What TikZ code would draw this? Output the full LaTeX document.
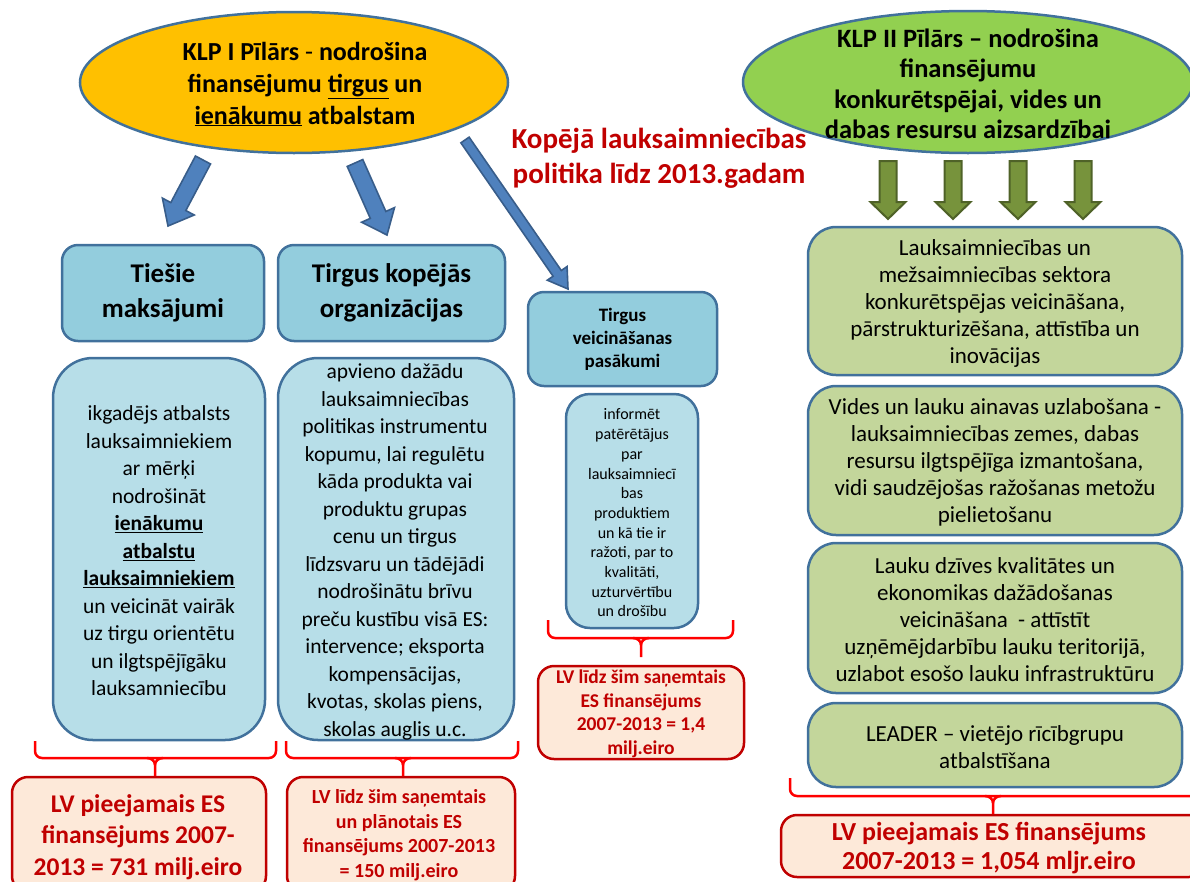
\documentclass[tikz,border=0pt]{standalone}
\usepackage{fontspec}
\setmainfont{Carlito}
\usetikzlibrary{calc,shapes.geometric}
\definecolor{bblue}{HTML}{41719C}
\definecolor{orangeF}{HTML}{FFC000}
\definecolor{greenF}{HTML}{92D050}
\definecolor{headF}{HTML}{93CDDD}
\definecolor{bodyF}{HTML}{B7DEE8}
\definecolor{oliveF}{HTML}{C3D69B}
\definecolor{redF}{HTML}{FDE9D9}
\definecolor{darkred}{HTML}{C00000}
\definecolor{arrowblue}{HTML}{4F81BD}
\definecolor{arrowblueD}{HTML}{385D8A}
\definecolor{arrowgreen}{HTML}{77933C}
\definecolor{arrowgreenD}{HTML}{4F6228}
\definecolor{bracered}{HTML}{FF0000}
% #1 style, #2 tail, #3 tip, #4 shaft half width, #5 head half width, #6 head length
\newcommand\blockarrow[6]{%
  \coordinate (ba-h) at ($(#3)!#6!(#2)$);
  \draw[#1] ($(#2)!#4!90:(#3)$) -- ($(ba-h)!#4!90:(#3)$) -- ($(ba-h)!#5!90:(#3)$) -- (#3)
    -- ($(ba-h)!#5!-90:(#3)$) -- ($(ba-h)!#4!-90:(#3)$) -- ($(#2)!#4!-90:(#3)$) -- cycle;}
% #1 left x, #2 right x, #3 centre x, #4 top y, #5 bar y, #6 tick bottom y
\newcommand\redbrace[6]{%
  \draw[bracestyle, rounded corners=7pt] (#1,#4) -- (#1,#5) -- (#2,#5) -- (#2,#4);
  \draw[bracestyle] (#3-8,#5) to[out=0,in=90] (#3,#5+7) -- (#3,#6);
  \draw[bracestyle] (#3+8,#5) to[out=180,in=90] (#3,#5+7);}
\begin{document}
\begin{tikzpicture}[x=1pt,y=-1pt,
  pillar/.style={ellipse, draw=bblue, line width=2.5pt, inner sep=0pt},
  boxshape/.style={draw=bblue, line width=2.5pt, rounded corners=#1, inner sep=0pt},
  headbox/.style={boxshape=16pt, fill=headF},
  bodybox/.style={boxshape=#1, fill=bodyF},
  greenbox/.style={boxshape=28pt, fill=oliveF},
  redbox/.style={draw=darkred, line width=2.5pt, rounded corners=16pt, fill=redF, inner sep=0pt},
  redtext/.style={text=darkred, align=center, inner sep=0pt},
  bluearrow/.style={fill=arrowblue, draw=arrowblueD, line width=1.6pt, line join=miter},
  greenarrow/.style={fill=arrowgreen, draw=arrowgreenD, line width=2pt, line join=miter},
  bracestyle/.style={draw=bracered, line width=2.5pt},
  txt/.style={align=center, inner sep=0pt}]
\useasboundingbox (0,0) rectangle (1190,881);

% pillars
\node[pillar, fill=orangeF, minimum width=428, minimum height=141] (p1) at (294,82.5) {};
\node[txt, font=\bfseries\fontsize{26}{32}\selectfont] (p1t) at (305,84)
  {KLP I Pīlārs \mdseries-\bfseries{} nodrošina\\ finansējumu \underline{tirgus} un\\ \underline{ienākumu} atbalstam};
\node[pillar, fill=greenF, minimum width=450, minimum height=142] (p2) at (968,82) {};
\node[txt, font=\bfseries\fontsize{26.5}{30.5}\selectfont] (p2t) at (968,84)
  {KLP II Pīlārs – nodrošina\\ finansējumu\\ konkurētspējai, vides un\\ dabas resursu aizsardzībai};

% title
\node[txt, text=darkred, font=\bfseries\fontsize{29}{35}\selectfont] (title) at (659,158)
  {Kopējā lauksaimniecības\\ politika līdz 2013.gadam};

% pillar I boxes
\node[headbox, minimum width=202, minimum height=96] (h1) at (163,293) {};
\node[txt, font=\bfseries\fontsize{27}{35}\selectfont] (h1t) at (h1.center) {Tiešie\\ maksājumi};
\node[headbox, minimum width=227, minimum height=96] (h2) at (391.5,293) {};
\node[txt, font=\bfseries\fontsize{27}{35}\selectfont] (h2t) at (h2.center) {Tirgus kopējās\\ organizācijas};
\node[headbox, minimum width=189, minimum height=94] (h3) at (622.5,339) {};
\node[txt, font=\bfseries\fontsize{19}{23}\selectfont] (h3t) at (h3.center) {Tirgus\\ veicināšanas\\ pasākumi};

\node[bodybox=40pt, minimum width=212, minimum height=382] (b1) at (159,549) {};
\node[txt, font=\fontsize{21.5}{27.5}\selectfont] (b1t) at (159,551)
  {ikgadējs atbalsts\\ lauksaimniekiem\\ ar mērķi\\ nodrošināt\\ \textbf{\underline{ienākumu}}\\ \textbf{\underline{atbalstu}}\\ \textbf{\underline{lauksaimniekiem}}\\ un veicināt vairāk\\ uz tirgu orientētu\\ un ilgtspējīgāku\\ lauksamniecību};
\node[bodybox=40pt, minimum width=236, minimum height=382] (b2) at (396,549) {};
\node[txt, font=\fontsize{21.5}{27.5}\selectfont] (b2t) at (395,552)
  {apvieno dažādu\\ lauksaimniecības\\ politikas instrumentu\\ kopumu, lai regulētu\\ kāda produkta vai\\ produktu grupas\\ cenu un tirgus\\ līdzsvaru un tādējādi\\ nodrošinātu brīvu\\ preču kustību visā ES:\\ intervence; eksporta\\ kompensācijas,\\ kvotas, skolas piens,\\ skolas auglis u.c.};
\node[bodybox=24pt, minimum width=132, minimum height=234] (b3) at (632,511) {};
\node[txt, font=\fontsize{16}{19.7}\selectfont] (b3t) at (632,513)
  {informēt\\ patērētājus\\ par\\ lauksaimniecī\\ bas\\ produktiem\\ un kā tie ir\\ ražoti, par to\\ kvalitāti,\\ uzturvērtību\\ un drošību};

% pillar II boxes
\node[greenbox, minimum width=374, minimum height=148] (g1) at (995,301) {};
\node[txt, font=\fontsize{23}{27}\selectfont] (g1t) at (995,303)
  {Lauksaimniecības un\\ mežsaimniecības sektora\\ konkurētspējas veicināšana,\\ pārstrukturizēšana, attīstība un\\ inovācijas};
\node[greenbox, minimum width=374, minimum height=149] (g2) at (995,460.5) {};
\node[txt, font=\fontsize{23}{27}\selectfont] (g2t) at (995,462)
  {Vides un lauku ainavas uzlabošana -\\ lauksaimniecības zemes, dabas\\ resursu ilgtspējīga izmantošana,\\ vidi saudzējošas ražošanas metožu\\ pielietošanu};
\node[greenbox, minimum width=374, minimum height=150] (g3) at (995,618) {};
\node[txt, font=\fontsize{23}{27}\selectfont] (g3t) at (995,620)
  {Lauku dzīves kvalitātes un\\ ekonomikas dažādošanas\\ veicināšana\ \ - attīstīt\\ uzņēmējdarbību lauku teritorijā,\\ uzlabot esošo lauku infrastruktūru};
\node[greenbox, minimum width=374, minimum height=84] (g4) at (995,745) {};
\node[txt, font=\fontsize{23}{27}\selectfont] (g4t) at (995,747)
  {LEADER – vietējo rīcībgrupu\\ atbalstīšana};

% red funding boxes
\node[redbox, minimum width=254, minimum height=115] (r1) at (139,834.5) {};
\node[redtext, font=\bfseries\fontsize{25.5}{31.5}\selectfont] (r1t) at (138,837) {LV pieejamais ES\\ finansējums 2007-\\ 2013 = 731 milj.eiro};
\node[redbox, minimum width=228, minimum height=115] (r2) at (401,834.5) {};
\node[redtext, font=\bfseries\fontsize{20}{24.5}\selectfont] (r2t) at (399,835) {LV līdz šim saņemtais\\ un plānotais ES\\ finansējums 2007-2013\\ = 150 milj.eiro};
\node[redbox, minimum width=206, minimum height=93] (r3) at (641,712.5) {};
\node[redtext, font=\bfseries\fontsize{19.5}{23.5}\selectfont] (r3t) at (641,714) {LV līdz šim saņemtais\\ ES finansējums\\ 2007-2013 = 1,4\\ milj.eiro};
\node[redbox, minimum width=424, minimum height=62] (r4) at (993,846) {};
\node[redtext, font=\bfseries\fontsize{26}{29.5}\selectfont] (r4t) at (989,848) {LV pieejamais ES finansējums\\ 2007-2013 = 1,054 mljr.eiro};

% braces
\redbrace{35}{276}{155}{741}{758}{776}
\redbrace{286}{518}{403}{741}{758}{776}
\redbrace{548}{733}{641}{620}{638}{657}
\redbrace{790}{1205}{993}{778}{796}{814}

% blue block arrows
\coordinate (a1s) at (203,160); \coordinate (a1e) at (168,226);
\coordinate (a2s) at (355,163); \coordinate (a2e) at (387,235);
\coordinate (a3s) at (465,140); \coordinate (a3e) at (568,289);
\blockarrow{bluearrow}{a1s}{a1e}{8.5pt}{18pt}{22pt}
\blockarrow{bluearrow}{a2s}{a2e}{8.5pt}{18pt}{22pt}
\blockarrow{bluearrow}{a3s}{a3e}{5pt}{12pt}{19pt}

% green arrows
\foreach \i/\x in {1/888,2/953,3/1018,4/1083}{
  \coordinate (gs\i) at (\x,161); \coordinate (ge\i) at (\x,219);
  \blockarrow{greenarrow}{gs\i}{ge\i}{8.5pt}{17.5pt}{17pt}
}
\end{tikzpicture}
\end{document}
